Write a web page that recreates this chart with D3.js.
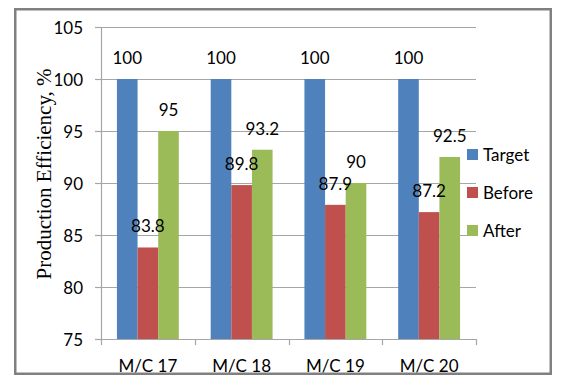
<!DOCTYPE html>
<html>
<head>
<meta charset="utf-8">
<script src="https://cdn.jsdelivr.net/npm/d3@7"></script>
<style>
  body { margin: 0; background: #fff; }
  svg text { font-family: Lato, "Open Sans", sans-serif; fill: #000; }
</style>
</head>
<body>
<div id="chart"></div>
<script>
const categories = ['M/C 17', 'M/C 18', 'M/C 19', 'M/C 20'];
const seriesNames = ['Target', 'Before', 'After'];
const target = [100, 100, 100, 100];
const before = [83.8, 89.8, 87.9, 87.2];
const after = [95, 93.2, 90, 92.5];
const yTicks = [75, 80, 85, 90, 95, 100, 105];

const colors = ['#4F81BD', '#C0504D', '#9BBB59'];
const values = [target, before, after];

const width = 565;
const height = 385;
const plot = { left: 101, right: 476, top: 27, bottom: 339 };

const svg = d3.select('#chart')
  .append('svg')
  .attr('width', width)
  .attr('height', height);

// outer frame
svg.append('rect')
  .attr('x', 15.25)
  .attr('y', 9.25)
  .attr('width', 535.5)
  .attr('height', 364.5)
  .attr('fill', '#fff')
  .attr('stroke', '#808080')
  .attr('stroke-width', 2.5);

const x0 = d3.scaleBand()
  .domain(categories)
  .range([plot.left, plot.right])
  .paddingInner(0.34)
  .paddingOuter(0.17);

const x1 = d3.scaleBand()
  .domain(seriesNames)
  .range([0, x0.bandwidth()]);

const y = d3.scaleLinear()
  .domain([75, 105])
  .range([plot.bottom, plot.top]);

// gridlines
svg.append('g')
  .attr('class', 'grid')
  .selectAll('line')
  .data(yTicks.slice(1))
  .enter()
  .append('line')
  .attr('x1', plot.left)
  .attr('x2', plot.right)
  .attr('y1', d => Math.round(y(d)) + 0.5)
  .attr('y2', d => Math.round(y(d)) + 0.5)
  .attr('stroke', '#a6a6a6')
  .attr('stroke-width', 1.2);

// y axis
const yAxis = d3.axisLeft(y)
  .tickValues(yTicks)
  .tickSize(6)
  .tickPadding(12);

const gy = svg.append('g')
  .attr('class', 'y axis')
  .attr('transform', `translate(${plot.left},0)`)
  .call(yAxis);
gy.select('.domain').attr('stroke', '#a6a6a6').attr('stroke-width', 1.2);
gy.selectAll('.tick line').attr('stroke', '#a6a6a6').attr('stroke-width', 1.2);
gy.selectAll('.tick text')
  .style('font-size', '17px')
  .attr('dy', '0.36em');

// bars
const groups = svg.append('g')
  .attr('class', 'bars')
  .selectAll('g')
  .data(categories)
  .enter()
  .append('g')
  .attr('transform', d => `translate(${x0(d)},0)`);

groups.selectAll('rect')
  .data((d, i) => seriesNames.map((s, k) => ({ s, k, v: values[k][i] })))
  .enter()
  .append('rect')
  .attr('x', d => x1(d.s))
  .attr('width', x1.bandwidth())
  .attr('y', d => y(d.v))
  .attr('height', d => y(75) - y(d.v))
  .attr('fill', d => colors[d.k]);

// data labels
groups.selectAll('text')
  .data((d, i) => seriesNames.map((s, k) => ({ s, k, v: values[k][i] })))
  .enter()
  .append('text')
  .attr('x', d => x1(d.s) + x1.bandwidth() / 2)
  .attr('y', d => y(d.v) - 15)
  .attr('text-anchor', 'middle')
  .style('font-size', '17px')
  .text(d => d.v);

// x axis
const xEdges = d3.range(categories.length + 1)
  .map(i => plot.left + i * (plot.right - plot.left) / categories.length);

const gx = svg.append('g').attr('class', 'x axis');
gx.append('line')
  .attr('x1', plot.left)
  .attr('x2', plot.right)
  .attr('y1', plot.bottom + 0.5)
  .attr('y2', plot.bottom + 0.5)
  .attr('stroke', '#a6a6a6')
  .attr('stroke-width', 1.2);
gx.selectAll('line.tick')
  .data(xEdges)
  .enter()
  .append('line')
  .attr('class', 'tick')
  .attr('x1', d => Math.round(d) + 0.5)
  .attr('x2', d => Math.round(d) + 0.5)
  .attr('y1', plot.bottom)
  .attr('y2', plot.bottom + 6)
  .attr('stroke', '#a6a6a6')
  .attr('stroke-width', 1.2);
gx.selectAll('text')
  .data(categories)
  .enter()
  .append('text')
  .attr('x', d => x0(d) + x0.bandwidth() / 2)
  .attr('y', 372)
  .attr('text-anchor', 'middle')
  .style('font-size', '17px')
  .text(d => d);

// y axis title
svg.append('text')
  .attr('transform', 'translate(51,174) rotate(-90)')
  .attr('text-anchor', 'middle')
  .style('font-family', '"Liberation Serif", "Times New Roman", serif')
  .style('font-size', '21px')
  .text('Production Efficiency, %');

// legend
const legend = svg.append('g')
  .attr('class', 'legend')
  .selectAll('g')
  .data(seriesNames)
  .enter()
  .append('g')
  .attr('transform', (d, i) => `translate(467,${149 + i * 38})`);

legend.append('rect')
  .attr('width', 11)
  .attr('height', 11)
  .attr('fill', (d, i) => colors[i]);

legend.append('text')
  .attr('x', 16)
  .attr('y', 5.5)
  .attr('dy', '0.36em')
  .style('font-size', '17px')
  .text(d => d);
</script>
</body>
</html>
